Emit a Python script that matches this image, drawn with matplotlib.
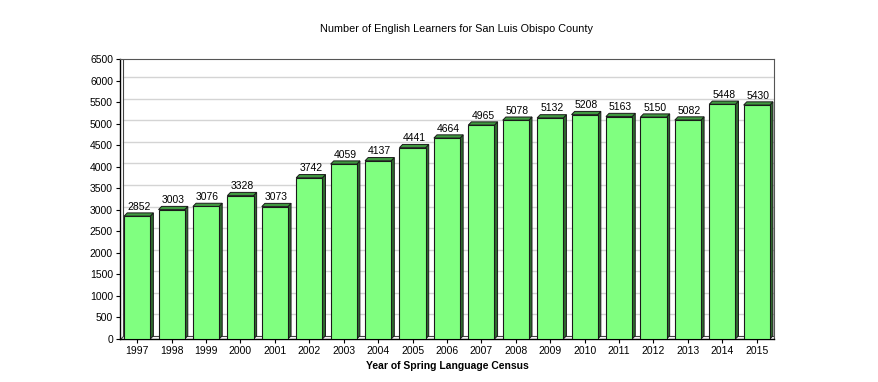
import matplotlib.pyplot as plt
from matplotlib.patches import Polygon

plt.rcParams["font.family"] = ["Liberation Sans Narrow", "Liberation Sans", "DejaVu Sans"]

# 数据
years = ["1997", "1998", "1999", "2000", "2001", "2002", "2003", "2004", "2005", "2006",
         "2007", "2008", "2009", "2010", "2011", "2012", "2013", "2014", "2015"]
learners = [2852, 3003, 3076, 3328, 3073, 3742, 4059, 4137, 4441, 4664,
            4965, 5078, 5132, 5208, 5163, 5150, 5082, 5448, 5430]

fig = plt.figure(figsize=(8.79, 3.82), dpi=100)
ax = fig.add_axes([0.1365, 0.1126, 0.744, 0.733])

n = len(years)
width = 0.76
dx = 0.09   # 3D 偏移
dy = 75

ax.set_xlim(-0.5, n - 0.5)
ax.set_ylim(0, 6500)

# 网格线
for g in range(500, 6500, 500):
    ax.plot([-0.5 + dx, n - 0.5], [g + dy, g + dy], color="#d4d4d4", lw=1, zorder=0)

# 地板
ax.add_patch(Polygon([(-0.5, 0), (n - 0.5, 0), (n - 0.5, dy), (-0.5 + dx, dy)],
                     closed=True, fc="white", ec="#444444", lw=0.8, zorder=1))
# 左侧墙
ax.plot([-0.5 + dx, -0.5 + dx], [dy, 6500], color="#444444", lw=0.8, zorder=1)

for i, v in enumerate(learners):
    x0 = i - width / 2
    x1 = i + width / 2
    # 侧面
    ax.add_patch(Polygon([(x1, 0), (x1 + dx, dy), (x1 + dx, v + dy), (x1, v)],
                         closed=True, fc="#2f6b2f", ec="#1a1a1a", lw=0.7, zorder=2))
    # 顶面
    ax.add_patch(Polygon([(x0, v), (x0 + dx, v + dy), (x1 + dx, v + dy), (x1, v)],
                         closed=True, fc="#3f9a3f", ec="#1a1a1a", lw=0.7, zorder=2))
    ax.text(i + dx / 2, v + dy + 30, str(v), ha="center", va="bottom", fontsize=7.5, zorder=4)

ax.bar(range(n), learners, width=width, color="#80ff80", edgecolor="#1a1a1a", lw=0.8, zorder=3)

ax.set_xticks(range(n))
ax.set_xticklabels(years, fontsize=7.5)
ax.set_yticks(range(0, 6501, 500))
ax.set_yticklabels([str(t) for t in range(0, 6501, 500)], fontsize=7.5)
ax.tick_params(axis="both", length=3, width=0.8, pad=2)

for side in ["top", "right"]:
    ax.spines[side].set_color("#555555")
    ax.spines[side].set_linewidth(0.8)
ax.spines["left"].set_linewidth(1.0)
ax.spines["bottom"].set_linewidth(1.0)

ax.set_xlabel("Year of Spring Language Census", fontsize=7.5, fontweight="bold", labelpad=4)
fig.text(0.519, 0.925, "Number of English Learners for San Luis Obispo County",
         ha="center", va="center", fontsize=7.8)

fig.savefig("out.png", dpi=100)
